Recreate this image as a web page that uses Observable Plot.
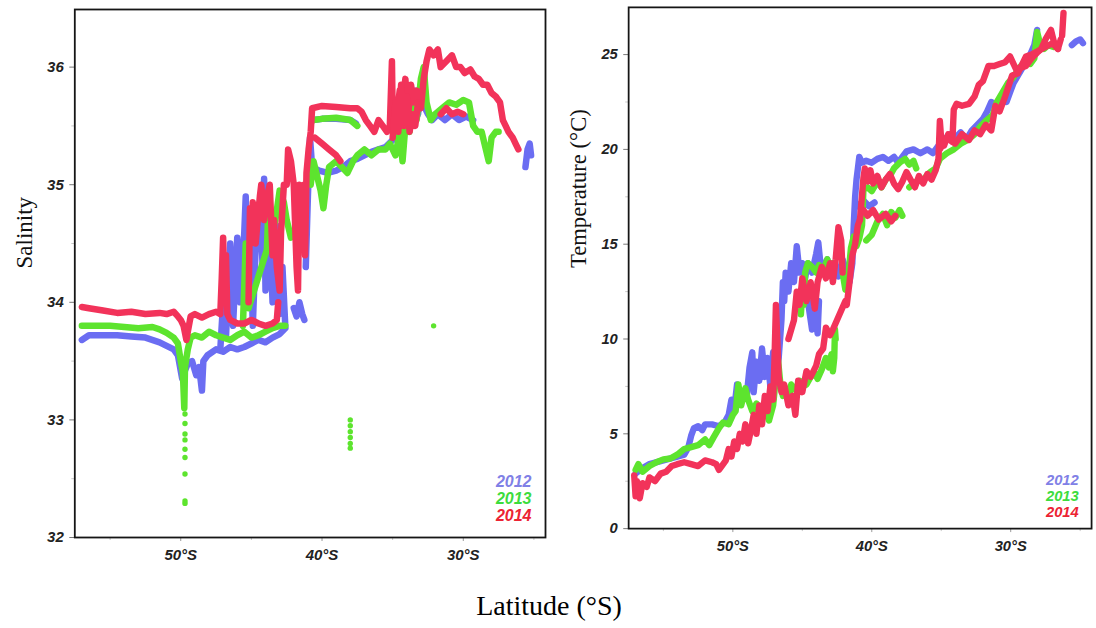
<!DOCTYPE html>
<html>
<head>
<meta charset="utf-8">
<script src="https://cdn.jsdelivr.net/npm/d3@7"></script>
<script src="https://cdn.jsdelivr.net/npm/@observablehq/plot@0.6"></script>
<style>
  body { margin: 0; background: #fff; }
  #wrap { position: relative; width: 1096px; height: 628px; overflow: hidden; background: #fff; }
  #left { position: absolute; left: 0; top: 0; }
  #right { position: absolute; left: 560px; top: 0; }
  #xlabel { position: absolute; left: 549px; top: 592px; transform: translateX(-50%);
            font-family: "Liberation Serif", "Times New Roman", serif; font-size: 28px; line-height: 28px; white-space: nowrap; }
</style>
</head>
<body>
<div id="wrap">
  <div id="left"></div>
  <div id="right"></div>
  <div id="xlabel">Latitude (°S)</div>
</div>
<script>
// ---------- labels / ticks ----------
const years = ["2012", "2013", "2014"];
const latTicks = [50, 40, 30];
const latMinorTicks = [55, 45, 35, 25];
const salTicks = [32, 33, 34, 35, 36];
const salMinorTicks = [32.5, 33.5, 34.5, 35.5];
const tempTicks = [0, 5, 10, 15, 20, 25];
const tempMinorTicks = [2.5, 7.5, 12.5, 17.5, 22.5];

// ---------- salinity tracks: [segment, latitude °S, salinity] ----------
const salinity2012 = [
  ["a",57.0,33.68],["a",56.5,33.72],["a",55.5,33.72],["a",54.5,33.72],["a",53.5,33.71],["a",52.5,33.70],["a",51.5,33.66],["a",51.0,33.63],["a",50.5,33.60],["a",50.2,33.55],["a",49.9,33.35],["a",49.7,33.42],["a",49.5,33.48],["a",49.2,33.50],["a",48.9,33.38],["a",48.7,33.45],["a",48.5,33.25],["a",48.4,33.50],["a",48.1,33.55],["a",47.5,33.60],["a",47.0,33.58],["a",46.5,33.62],["a",46.0,33.60],["a",45.5,33.62],["a",45.0,33.65],["a",44.5,33.68],["a",44.0,33.66],["a",43.5,33.70],["a",43.0,33.73],["a",42.6,33.78],
  ["b",47.2,33.60],["b",47.0,34.00],["b",46.8,33.70],["b",46.5,34.50],["b",46.3,33.80],["b",46.0,34.55],["b",45.8,34.00],["b",45.5,34.60],["b",45.4,34.90],["b",45.3,34.20],["b",45.1,34.70],["b",44.9,33.80],["b",44.6,34.80],["b",44.4,34.85],["b",44.2,34.30],["b",44.1,35.05],["b",44.0,34.10],["b",43.7,34.60],["b",43.5,34.00],["b",43.2,34.65],["b",43.0,33.90],["b",42.8,34.30],["b",42.6,33.80],
  ["c",42.0,33.95],["c",41.8,33.88],["c",41.6,34.00],["c",41.4,33.90],["c",41.25,33.85],
  ["d",41.15,34.30],["d",41.0,34.90],["d",40.85,35.40],["d",40.7,35.15],["d",40.2,35.12],["d",39.6,35.10],["d",39.0,35.12],["d",38.5,35.15],["d",38.0,35.20],["d",37.5,35.22],["d",37.0,35.25],["d",36.5,35.28],["d",36.0,35.30],["d",35.5,35.32],["d",35.0,35.38],["d",34.6,35.42],["d",34.3,35.50],["d",34.0,35.45],["d",33.8,35.70],["d",33.6,35.50],["d",33.4,35.80],["d",33.2,35.60],["d",33.0,35.85],["d",32.8,35.95],["d",32.7,35.65],["d",32.5,35.60],["d",32.2,35.55],["d",31.8,35.60],["d",31.3,35.55],["d",30.8,35.60],["d",30.3,35.55],["d",29.8,35.58],["d",29.3,35.55],
  ["e",40.6,35.55],["e",40.0,35.56],["e",39.0,35.56],["e",38.0,35.55],["e",37.6,35.52],
  ["f",25.6,35.15],["f",25.45,35.30],["f",25.3,35.35],["f",25.2,35.25]
];
const salinity2013 = [
  ["a",57.0,33.80],["a",56.0,33.80],["a",55.0,33.80],["a",54.0,33.79],["a",53.0,33.78],["a",52.0,33.79],["a",51.5,33.77],["a",51.0,33.74],["a",50.5,33.70],["a",50.2,33.65],["a",50.0,33.50],["a",49.85,33.40],["a",49.75,33.10],["a",49.7,33.45],["a",49.5,33.60],["a",49.3,33.70],["a",49.0,33.72],["a",48.5,33.70],["a",48.0,33.75],["a",47.5,33.72],["a",47.0,33.70],["a",46.5,33.68],["a",46.0,33.72],["a",45.5,33.75],["a",45.0,33.70],["a",44.5,33.72],["a",44.0,33.75],["a",43.5,33.78],["a",43.0,33.80],["a",42.6,33.80],
  ["b",45.6,33.80],["b",45.4,34.50],["b",45.2,33.95],["b",43.9,34.45],["b",43.8,34.80],["b",43.5,34.62],["b",43.3,34.70],["b",43.0,34.95],["b",42.7,34.85],["b",42.5,34.70],["b",42.2,34.55],["b",41.9,34.60],["b",41.7,34.90],["b",41.3,34.85],
  ["c",40.8,35.00],["c",40.6,35.20],["c",40.4,35.10],["c",40.1,34.95],["c",39.9,34.80],["c",39.7,35.00],["c",39.5,35.15],["c",39.0,35.20],["c",38.6,35.15],["c",38.2,35.10],["c",37.8,35.20],["c",37.5,35.25],["c",37.0,35.30],["c",36.5,35.25],["c",36.0,35.30],["c",35.5,35.30],["c",35.2,35.35],["c",34.8,35.25],["c",34.5,35.45],["c",34.3,35.20],["c",34.1,35.50],["c",33.8,35.45],["c",33.6,35.70],["c",33.3,35.55],["c",33.0,35.90],["c",32.8,36.00],["c",32.6,35.70],["c",32.3,35.55],["c",32.0,35.60],["c",31.5,35.65],["c",31.0,35.70],["c",30.5,35.68],["c",30.0,35.72],["c",29.6,35.70],["c",29.3,35.50],["c",29.0,35.45],["c",28.7,35.45],["c",28.4,35.30],["c",28.2,35.20],["c",28.0,35.40],["c",27.7,35.45],["c",27.5,35.45],
  ["d",40.6,35.55],["d",40.0,35.56],["d",39.0,35.57],["d",38.0,35.55],["d",37.5,35.50]
];
const salinity2013Dots = [
  [49.7,33.05],[49.7,32.97],[49.7,32.88],[49.7,32.83],[49.7,32.75],[49.7,32.68],[49.7,32.54],[49.7,32.31],[49.7,32.29],
  [38.0,33.00],[38.0,32.95],[38.0,32.90],[38.0,32.85],[38.0,32.80],[38.0,32.76],
  [32.1,33.80]
];
const salinity2014 = [
  ["a",57.0,33.96],["a",56.5,33.95],["a",55.5,33.93],["a",54.5,33.91],["a",53.5,33.92],["a",52.5,33.90],["a",51.5,33.91],["a",51.0,33.90],["a",50.5,33.92],["a",50.2,33.88],["a",50.0,33.85],["a",49.8,33.80],["a",49.6,33.68],["a",49.5,33.75],["a",49.3,33.88],["a",49.0,33.90],["a",48.5,33.87],["a",48.0,33.90],["a",47.5,33.92],["a",47.2,33.90],["a",47.1,34.20],["a",47.0,34.55],["a",46.9,34.00],["a",46.8,34.40],["a",46.7,33.90],["a",46.5,33.85],["a",46.0,33.82],["a",45.5,33.82],["a",45.0,33.85],["a",44.5,33.82],["a",44.0,33.80],["a",43.5,33.82],["a",43.2,33.85],["a",43.1,34.00],
  ["b",45.2,34.00],["b",45.1,34.80],["b",45.0,34.60],["b",44.9,34.85],["b",44.7,34.50],["b",44.4,34.90],["b",44.3,35.00],["b",44.1,34.70],["b",43.9,34.90],["b",43.7,35.00],["b",43.5,34.40],["b",43.4,34.70],["b",43.2,34.30],["b",43.0,34.10],["b",42.9,34.60],["b",42.7,35.00],["b",42.5,35.00],["b",42.4,35.30],["b",42.2,35.20],["b",42.0,35.00],["b",41.8,34.30],["b",41.7,34.10],["b",41.6,35.00],["b",41.4,34.95],["b",41.3,35.00],["b",41.2,34.40],["b",41.1,35.10],["b",40.95,35.30],["b",40.8,35.45],["b",40.7,35.65],["b",40.0,35.67],["b",39.0,35.66],["b",38.0,35.65],["b",37.5,35.65],["b",37.2,35.62],["b",36.9,35.55],["b",36.6,35.50],["b",36.3,35.45],["b",36.0,35.55],["b",35.7,35.50],["b",35.4,35.45],["b",35.2,35.50],["b",35.05,36.05],["b",35.0,35.60],["b",34.8,35.50],["b",34.5,35.80],["b",34.3,35.70],["b",34.1,35.90],["b",33.9,35.60],["b",33.7,35.85],["b",33.5,35.70],["b",33.3,35.80],["b",33.0,35.65],["b",32.8,35.90],["b",32.6,36.05],["b",32.4,36.15],["b",32.1,36.10],["b",31.8,36.15],["b",31.6,36.00],["b",31.2,36.05],["b",30.8,36.10],["b",30.5,36.00],["b",30.2,36.00],["b",29.9,35.95],["b",29.5,35.98],["b",29.2,35.92],["b",28.9,35.90],["b",28.6,35.85],["b",28.3,35.85],["b",28.0,35.78],["b",27.7,35.75],["b",27.4,35.70],["b",27.2,35.55],["b",27.0,35.50],["b",26.8,35.45],["b",26.5,35.40],["b",26.3,35.35],["b",26.1,35.30],
  ["c",40.5,35.40],["c",40.0,35.35],["c",39.5,35.30],["c",39.0,35.25],["c",38.7,35.20],
  ["e",31.6,35.60],["e",31.2,35.65],["e",30.8,35.60],["e",30.4,35.62],["e",30.0,35.60],
  ["f",35.0,35.40],["f",34.8,35.70],["f",34.6,35.45],["f",34.4,35.85],["f",34.2,35.50],["f",34.0,35.75],["f",33.8,35.45],["f",33.6,35.60],["f",33.4,35.50],["f",33.2,35.70]
];

// ---------- temperature tracks: [segment, latitude °S, °C] ----------
const temperature2012 = [
  ["a",57.0,2.9],["a",56.5,3.2],["a",56.0,3.4],["a",55.0,3.6],["a",54.0,3.8],["a",53.5,3.9],["a",53.2,4.3],["a",53.0,4.9],["a",52.8,5.3],["a",52.5,5.4],["a",52.2,5.2],["a",52.0,5.5],["a",51.5,5.5],["a",51.0,5.4],["a",50.6,5.6],["a",50.3,6.0],["a",50.1,6.8],["a",49.9,6.3],["a",49.7,7.6],["a",49.5,7.0],["a",49.2,7.2],["a",49.0,7.0],["a",48.8,8.5],["a",48.6,9.3],["a",48.5,7.2],["a",48.3,8.8],["a",48.1,7.8],["a",47.9,9.5],["a",47.7,8.0],["a",47.5,9.0],["a",47.3,7.5],["a",47.1,9.3],["a",46.9,8.2],["a",46.7,9.0],["a",46.5,11.0],["a",46.4,13.0],["a",46.3,12.0],["a",46.2,13.5],["a",46.0,12.5],["a",45.8,14.0],["a",45.6,13.0],["a",45.4,14.9],["a",45.2,13.5],["a",45.0,14.0],["a",44.8,13.2],["a",44.6,14.0],["a",44.3,13.5],["a",44.0,14.5],["a",43.85,15.1],["a",43.7,14.0],["a",43.5,13.8],["a",43.2,14.2],["a",43.0,13.5],["a",42.7,14.0],["a",42.4,13.3],["a",42.1,14.2],["a",41.8,13.5],["a",41.6,13.0],["a",41.4,14.0],["a",41.3,16.0],["a",41.2,17.5],["a",41.1,18.4],["a",41.0,19.0],["a",40.9,19.6],["a",40.7,19.3],["a",40.4,19.4],["a",40.0,19.3],["a",39.6,19.5],["a",39.2,19.6],["a",38.8,19.4],["a",38.4,19.6],["a",38.1,19.3],["a",37.8,19.6],["a",37.5,19.9],["a",37.0,20.0],["a",36.5,19.8],["a",36.0,20.0],["a",35.6,19.8],["a",35.2,20.2],["a",34.8,20.5],["a",34.4,20.8],["a",34.0,20.6],["a",33.6,20.9],["a",33.2,20.5],["a",32.8,21.0],["a",32.4,21.3],["a",32.0,21.6],["a",31.7,22.0],["a",31.4,22.5],["a",31.0,22.3],["a",30.6,22.8],["a",30.3,22.5],["a",30.05,23.0],["a",29.8,23.5],["a",29.4,24.0],["a",29.0,24.5],["a",28.6,25.0],["a",28.3,25.5],["a",28.1,26.3],
  ["b",44.6,12.0],["b",44.3,10.5],["b",44.1,11.5],["b",43.9,10.3],["b",43.8,12.0],
  ["c",41.0,17.0],["c",40.6,17.3],["c",40.2,17.0],["c",39.8,17.2],
  ["d",25.6,25.5],["d",25.3,25.7],["d",25.0,25.8],["d",24.8,25.6]
];
const temperature2013 = [
  ["a",57.0,3.1],["a",56.8,3.4],["a",56.5,3.0],["a",56.0,3.3],["a",55.5,3.5],["a",55.0,3.65],["a",54.5,3.7],["a",54.0,3.9],["a",53.5,4.2],["a",53.0,4.3],["a",52.5,4.4],["a",52.0,4.7],["a",51.7,4.4],["a",51.4,4.8],["a",51.0,5.3],["a",50.7,5.6],["a",50.3,5.5],["a",50.0,6.0],["a",49.8,6.2],["a",49.6,7.6],["a",49.4,6.5],["a",49.1,7.4],["a",48.9,6.8],["a",48.6,6.2],["a",48.3,6.6],["a",48.0,5.9],["a",47.7,6.4],["a",47.4,5.7],["a",47.1,6.5],["a",46.9,8.0],["a",46.8,9.3],["a",46.6,7.8],["a",46.4,7.0],["a",46.2,7.4],["a",46.0,6.8],["a",45.8,7.6],["a",45.5,7.3],["a",45.2,7.8],["a",45.0,7.5],["a",44.7,7.6],["a",44.4,8.0],["a",44.1,8.2],["a",43.9,7.9],["a",43.6,8.4],["a",43.3,9.0],["a",43.1,8.5],["a",42.9,9.2],["a",42.8,8.3],["a",42.7,9.0],["a",42.65,10.5],["a",42.6,10.0],
  ["b",45.1,11.3],["b",45.0,12.5],["b",44.9,11.8],["b",44.8,13.5],["b",44.6,14.0],["b",44.3,13.8],["b",44.0,13.5],["b",43.8,13.9],["b",43.5,13.6],["b",43.2,14.2],["b",43.0,13.7],["b",42.8,14.0],
  ["c",42.1,13.5],["c",41.9,12.6],["c",41.7,13.2],["c",41.5,14.8],["c",41.3,15.4],["c",41.1,14.9],["c",40.9,15.3],["c",40.7,16.0],["c",40.6,17.9],["c",40.3,18.0],["c",40.0,17.8],["c",39.6,18.3],["c",39.3,18.0],["c",39.0,18.4],["c",38.7,18.6],["c",38.4,19.0],["c",38.0,19.3],["c",37.6,19.5],["c",37.3,19.2],["c",37.0,19.4],["c",36.8,19.0],
  ["d",40.4,15.2],["d",40.0,15.5],["d",39.6,16.2],["d",39.2,16.6],["d",38.9,16.0],["d",38.6,16.7],["d",38.3,16.4],["d",38.0,16.8],["d",37.8,16.5],
  ["e",37.3,18.0],["e",36.8,18.3],["e",36.3,18.4],["e",35.8,18.8],["e",35.4,19.0],["e",35.1,19.5],["e",34.6,19.8],["e",34.1,20.0],["e",33.6,20.3],["e",33.1,20.5],["e",32.6,20.8],["e",32.2,21.2],["e",31.8,21.5],["e",31.3,21.8],["e",31.0,22.5],["e",30.6,23.0],["e",30.2,23.5],["e",29.8,23.8],["e",29.4,24.3],["e",29.0,24.6],["e",28.6,24.5],["e",28.3,24.8],["e",28.1,26.2],["e",27.9,25.6],["e",27.6,25.3],["e",27.3,25.5],["e",26.9,25.4]
];
const temperature2014 = [
  ["a",57.1,2.8],["a",57.0,1.7],["a",56.9,2.5],["a",56.7,1.6],["a",56.5,2.4],["a",56.2,2.2],["a",56.0,2.7],["a",55.6,2.5],["a",55.2,2.9],["a",54.8,3.0],["a",54.4,3.3],["a",54.0,3.4],["a",53.5,3.5],["a",53.0,3.4],["a",52.5,3.3],["a",52.0,3.6],["a",51.5,3.5],["a",51.2,3.4],["a",51.0,3.1],["a",50.8,3.3],["a",50.5,3.6],["a",50.3,4.2],["a",50.1,3.8],["a",49.9,4.6],["a",49.7,4.2],["a",49.5,5.0],["a",49.3,4.6],["a",49.1,5.5],["a",48.9,4.5],["a",48.7,5.2],["a",48.5,6.0],["a",48.3,5.0],["a",48.1,6.5],["a",47.9,5.5],["a",47.7,7.0],["a",47.5,6.2],["a",47.3,7.5],["a",47.1,6.8],["a",47.0,9.0],["a",46.9,11.8],["a",46.8,10.0],["a",46.7,8.0],["a",46.5,7.2],["a",46.3,7.6],["a",46.0,6.5],["a",45.7,7.0],["a",45.5,6.0],["a",45.3,7.8],["a",45.0,7.2],["a",44.7,8.3],["a",44.4,8.0],["a",44.0,8.6],["a",43.8,9.2],["a",43.5,9.5],["a",43.3,10.6],["a",43.0,10.2],["a",42.8,10.5],["a",42.5,11.0],["a",42.2,11.5],["a",41.9,12.0],["a",41.8,11.8],["a",41.6,13.0],["a",41.4,14.4],["a",41.2,15.0],["a",41.0,16.0],["a",40.85,16.3],
  ["b",46.0,10.0],["b",45.6,11.0],["b",45.4,12.5],["b",45.2,11.8],["b",45.0,13.2],["b",44.7,12.0],["b",44.4,13.0],["b",44.1,11.6],["b",43.9,13.0],["b",43.6,13.8],["b",43.3,13.2],["b",43.0,14.0],["b",42.8,13.0],["b",42.6,14.2],["b",42.4,15.9],["b",42.2,15.2],["b",42.1,13.5],
  ["c",40.85,16.3],["c",40.6,18.5],["c",40.5,19.0],["c",40.3,18.3],["c",40.1,18.9],["c",39.9,18.2],["c",39.6,18.6],["c",39.3,18.0],["c",39.0,18.4],["c",38.7,18.7],["c",38.4,18.2],["c",38.1,17.9],["c",37.8,18.3],["c",37.5,18.8],["c",37.2,18.4],["c",36.9,18.0],["c",36.6,18.6],["c",36.3,18.2],["c",36.0,18.7],["c",35.7,18.4],["c",35.4,18.9],["c",35.2,19.5],["c",35.1,21.5],["c",35.0,20.5],["c",34.8,20.2],["c",34.5,20.8],["c",34.2,20.4],["c",34.1,22.1],["c",33.9,22.4],["c",33.5,22.3],["c",33.0,22.4],["c",32.6,22.8],["c",32.3,23.4],["c",32.0,23.6],["c",31.6,24.4],["c",31.2,24.4],["c",30.8,24.5],["c",30.4,24.6],["c",30.05,24.9],["c",29.6,24.2],["c",29.3,24.3],["c",28.9,24.4],["c",28.5,24.8],["c",28.1,25.1],["c",27.8,25.3],["c",27.5,25.8],["c",27.1,26.3],["c",26.9,25.7],["c",26.6,25.3],
  ["d",40.6,16.8],["d",40.3,16.5],["d",39.9,16.8],["d",39.5,16.3],["d",39.0,16.6],["d",38.6,16.2],["d",38.3,16.5],
  ["e",35.1,20.0],["e",34.6,20.6],["e",34.0,20.3],["e",33.5,20.8],["e",33.0,20.5],["e",32.6,21.0],["e",32.2,20.8],["e",31.8,21.3],["e",31.4,21.0],["e",31.1,22.3],["e",30.8,22.0],["e",30.4,22.8],["e",29.9,23.9],["e",29.5,24.0],["e",28.9,24.9],["e",28.5,25.0],["e",28.0,25.2],["e",27.5,25.4],["e",27.0,25.6],["e",26.6,25.3],["e",26.4,25.8],
  ["f",26.3,26.0],["f",26.2,27.2]
];

// ---------- styling ----------
const trackColors = {"2012": "#6b6df2", "2013": "#5de42e", "2014": "#f2335a"};
const legendColors = {"2012": "#8080e6", "2013": "#3ddc3d", "2014": "#ec2333"};
const latDomain = [57.5, 24.18];
const rows = (arr, year) => arr.map(([s, lat, v]) => ({seg: year + s, lat, v}));
const pts = (arr) => arr.map(([lat, v]) => ({lat, v}));

function panel({tracks, dots, yDomain, yTicks, yMinor, yLabel, width, marginLeft, marginRight, marginTop, legend}) {
  const marks = [];
  years.forEach(y => {
    marks.push(Plot.line(rows(tracks[y], y), {
      x: "lat", y: "v", z: "seg", stroke: trackColors[y], strokeWidth: 6.5,
      strokeLinejoin: "round", strokeLinecap: "round", curve: "linear"
    }));
    if (dots && dots[y]) marks.push(Plot.dot(pts(dots[y]), {x: "lat", y: "v", r: 2.7, fill: trackColors[y], stroke: "none"}));
  });
  // legend
  years.forEach((y, i) => {
    marks.push(Plot.text([y], {
      text: d => d, frameAnchor: "bottom-right", textAnchor: "end",
      dx: legend.dx, dy: legend.dy[i], fill: legendColors[y],
      fontSize: legend.size, fontWeight: "bold", fontStyle: "italic",
      fontFamily: "Liberation Sans, Arial, sans-serif"
    }));
  });
  // y label
  marks.push(Plot.text([yLabel], {
    text: d => d, frameAnchor: "left", rotate: -90, dx: legend.labelDx, dy: legend.labelDy,
    fontFamily: "Liberation Serif, Times New Roman, serif", fontSize: 23,
    fontWeight: "normal", fontStyle: "normal", fill: "#111"
  }));
  // axes
  marks.push(Plot.axisX(latMinorTicks, {tickSize: 3, tickFormat: () => "", stroke: "#c8c8c8"}));
  marks.push(Plot.axisX(latTicks, {tickSize: 4, tickPadding: 8, tickFormat: d => d + "°S", stroke: "#999", fill: "#222"}));
  marks.push(Plot.axisY(yMinor, {tickSize: 3, tickFormat: () => "", stroke: "#c8c8c8"}));
  marks.push(Plot.axisY(yTicks, {tickSize: 5, tickPadding: 6, tickFormat: d => String(d), stroke: "#777", fill: "#222"}));
  marks.push(Plot.frame({stroke: "#151515", strokeWidth: 1.8}));

  return Plot.plot({
    width, height: 578, marginLeft, marginRight, marginTop, marginBottom: 41,
    x: {domain: latDomain, label: null},
    y: {domain: yDomain, label: null},
    style: {fontFamily: "Liberation Sans, Arial, sans-serif", fontSize: "15px", fontWeight: "bold", fontStyle: "italic", background: "transparent", overflow: "visible"},
    marks
  });
}

const left = panel({
  tracks: {"2012": salinity2012, "2013": salinity2013, "2014": salinity2014},
  dots: {"2013": salinity2013Dots},
  yDomain: [32, 36.49], yTicks: salTicks, yMinor: salMinorTicks, yLabel: "Salinity",
  width: 560, marginLeft: 74.3, marginRight: 15, marginTop: 9,
  legend: {dx: -14, dy: [-51, -34, -17], size: 16, labelDx: -50, labelDy: -5}
});
document.getElementById("left").appendChild(left);

const right = panel({
  tracks: {"2012": temperature2012, "2013": temperature2013, "2014": temperature2014},
  dots: null,
  yDomain: [0, 27.49], yTicks: tempTicks, yMinor: tempMinorTicks, yLabel: "Temperature (°C)",
  width: 545, marginLeft: 69.3, marginRight: 5, marginTop: 7,
  legend: {dx: -13, dy: [-44, -28, -12], size: 15, labelDx: -51, labelDy: 0}
});
document.getElementById("right").appendChild(right);
</script>
</body>
</html>
